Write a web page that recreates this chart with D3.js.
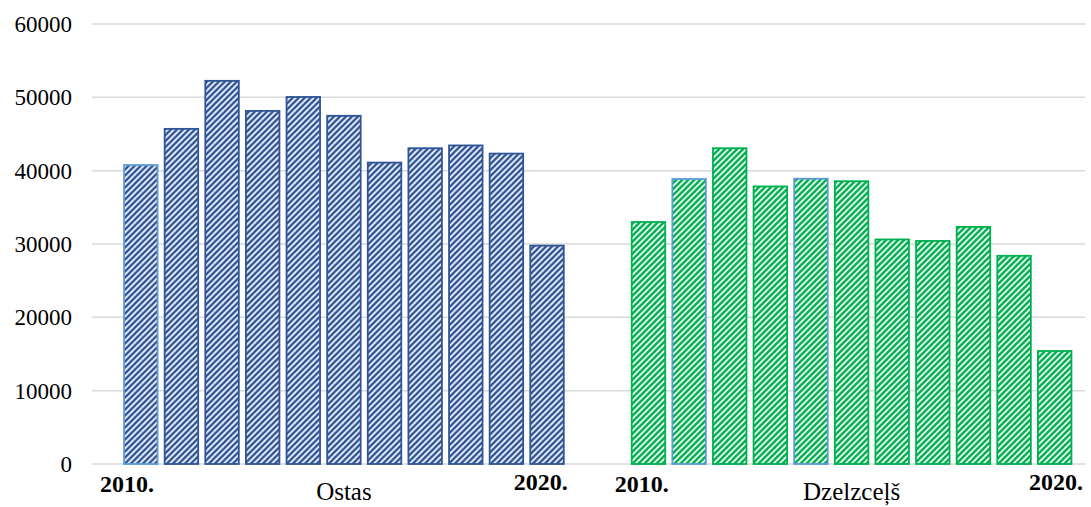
<!DOCTYPE html>
<html>
<head>
<meta charset="utf-8">
<script src="https://cdn.jsdelivr.net/npm/d3@7"></script>
<style>
  body { margin: 0; background: #fff; }
  text { font-family: "Liberation Serif", "Times New Roman", serif; fill: #000; }
</style>
</head>
<body>
<div id="chart"></div>
<script>
//  Data
var groups      =   ["Ostas", "Dzelzceļš"];
var years       =   [2010, 2011, 2012, 2013, 2014, 2015, 2016, 2017, 2018, 2019, 2020];
var ostas       =   [40770, 45700, 52250, 48150, 50050, 47480, 41100, 43060, 43440, 42330, 29780];
var dzelzcels   =   [33000, 38860, 43060, 37850, 38900, 38560, 30620, 30420, 32330, 28390, 15410];
var yTicks      =   [0, 10000, 20000, 30000, 40000, 50000, 60000];
// years whose bar has a light outline
var lightOstas  =   [2010];
var lightDzelz  =   [2011, 2014];

//  Size
var chart_width     =   1091;
var chart_height    =   507;

var series = [
    { name: groups[0], values: ostas,     light: lightOstas, color: "#2F5597", id: "hatchBlue"  },
    { name: groups[1], values: dzelzcels, light: lightDzelz, color: "#00B050", id: "hatchGreen" }
];

var svg = d3.select("#chart")
    .append("svg")
    .attr("width", chart_width)
    .attr("height", chart_height);

// Hatch patterns
var defs = svg.append("defs");
series.forEach(function(s){
    var p = defs.append("pattern")
        .attr("id", s.id)
        .attr("patternUnits", "userSpaceOnUse")
        .attr("width", 6)
        .attr("height", 6);
    p.append("rect").attr("width", 6).attr("height", 6).attr("fill", "#fff");
    p.append("path")
        .attr("d", "M-1,1 l2,-2 M0,6 l6,-6 M5,7 l2,-2")
        .attr("stroke", s.color)
        .attr("stroke-width", 2.6);
});

// Scales
var y = d3.scaleLinear()
    .domain([0, 60000])
    .range([464, 24]);

var x0 = d3.scaleBand()
    .domain(groups)
    .range([120.5, 1075])
    .paddingInner(0.1198);

var x1 = d3.scaleBand()
    .domain(years)
    .range([0, x0.bandwidth()])
    .paddingInner(0.175)
    .paddingOuter(0.0875);

// Gridlines
svg.append("g")
    .selectAll("line")
    .data(yTicks)
    .enter()
    .append("line")
    .attr("x1", 92)
    .attr("x2", 1085)
    .attr("y1", d => y(d))
    .attr("y2", d => y(d))
    .attr("stroke", "#D9D9D9")
    .attr("stroke-width", 1.5);

// Y axis labels
var yAxis = svg.append("g")
    .attr("transform", "translate(78,0)")
    .call(d3.axisLeft(y).tickValues(yTicks).tickSize(0).tickPadding(6).tickFormat(d3.format("d")));
yAxis.select(".domain").remove();
yAxis.selectAll("text")
    .attr("font-family", "Liberation Serif, Times New Roman, serif")
    .attr("font-size", 23)
    .attr("fill", "#000");

// Bars
series.forEach(function(s){
    var g = svg.append("g")
        .attr("transform", "translate(" + x0(s.name) + ",0)");

    g.selectAll("rect")
        .data(years)
        .enter()
        .append("rect")
        .attr("x", d => x1(d))
        .attr("y", (d, i) => y(s.values[i]))
        .attr("width", x1.bandwidth())
        .attr("height", (d, i) => y(0) - y(s.values[i]))
        .attr("fill", "url(#" + s.id + ")")
        .attr("stroke", d => s.light.indexOf(d) >= 0 ? "#5B9BD5" : s.color)
        .attr("stroke-width", 1.8);
});

// Category labels
var first = years[0], last = years[years.length - 1];
var labelShift = [[-20.5, 0.5], [-13.5, 8]];
series.forEach(function(s, i){
    var gx = x0(s.name);
    svg.append("text")
        .attr("x", gx + labelShift[i][0])
        .attr("y", 492)
        .attr("font-size", 24)
        .attr("font-weight", "bold")
        .text(first + ".");
    svg.append("text")
        .attr("x", gx + x0.bandwidth() + labelShift[i][1])
        .attr("y", 490)
        .attr("text-anchor", "end")
        .attr("font-size", 24)
        .attr("font-weight", "bold")
        .text(last + ".");
    svg.append("text")
        .attr("x", gx + x0.bandwidth() / 2)
        .attr("y", 500)
        .attr("text-anchor", "middle")
        .attr("font-size", 25)
        .text(s.name);
});
</script>
</body>
</html>
